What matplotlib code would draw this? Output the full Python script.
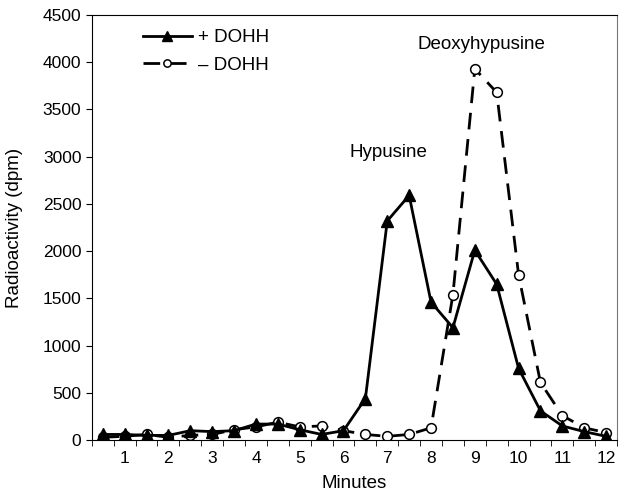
import matplotlib
matplotlib.use("Agg")
import matplotlib.pyplot as plt

plt.rcParams['font.family'] = ['Liberation Sans', 'DejaVu Sans']

minutes = [0.5, 1.0, 1.5, 2.0, 2.5, 3.0, 3.5, 4.0, 4.5, 5.0, 5.5, 6.0,
           6.5, 7.0, 7.5, 8.0, 8.5, 9.0, 9.5, 10.0, 10.5, 11.0, 11.5, 12.0]
plus_dohh = [60, 60, 50, 50, 100, 90, 100, 170, 170, 110, 60, 100,
             440, 2320, 2590, 1460, 1190, 2010, 1650, 760, 310, 150, 90, 40]
minus_dohh = [30, 40, 60, 30, 50, 60, 110, 140, 190, 140, 150, 100,
              60, 40, 60, 130, 1540, 3930, 3680, 1750, 610, 260, 130, 80]
xtick_labels = [str(i) for i in range(1, 13)]

fig = plt.figure(figsize=(6.29, 4.99), dpi=100)
ax = fig.add_axes([0.146, 0.118, 0.835, 0.852])

ax.plot(minutes, minus_dohh, color='black', linestyle=(0, (6, 3.5)), linewidth=2,
        marker='o', markersize=7, markerfacecolor='white', markeredgewidth=1.1,
        label='\u2013 DOHH', zorder=2)
ax.plot(minutes, plus_dohh, color='black', linestyle='-', linewidth=2,
        marker='^', markersize=9, markerfacecolor='black', label='+ DOHH',
        zorder=3)

ax.set_xlim(0.25, 12.25)
ax.set_ylim(0, 4500)
ax.set_xticks(range(1, 13))
ax.set_xticklabels(xtick_labels)
ax.set_xticks([0.25 + 0.5 * i for i in range(25)], minor=True)
ax.tick_params(axis='x', which='major', length=0, labelsize=12.5, pad=8)
ax.tick_params(axis='x', which='minor', length=4, direction='out')
ax.set_yticks(range(0, 4501, 500))
ax.tick_params(axis='y', labelsize=12.5, length=4)

ax.set_xlabel('Minutes', fontsize=13.5, labelpad=6)
ax.set_ylabel('Radioactivity (dpm)', fontsize=13.5)
ax.yaxis.set_label_coords(-0.131, 0.5)

ax.spines['right'].set_color('#777777')

ax.text(7.02, 3040, 'Hypusine', fontsize=13.5, ha='center', va='center')
ax.text(9.16, 4185, 'Deoxyhypusine', fontsize=13.5, ha='center', va='center')

handles, labels = ax.get_legend_handles_labels()
ax.legend(handles[::-1], labels[::-1], loc='upper left',
          bbox_to_anchor=(0.097, 0.967), frameon=False, borderpad=0,
          borderaxespad=0, markerscale=0.75,
          fontsize=13.5, handlelength=2.6, handletextpad=0.32, labelspacing=0.57)

fig.savefig('out.png', dpi=100)
